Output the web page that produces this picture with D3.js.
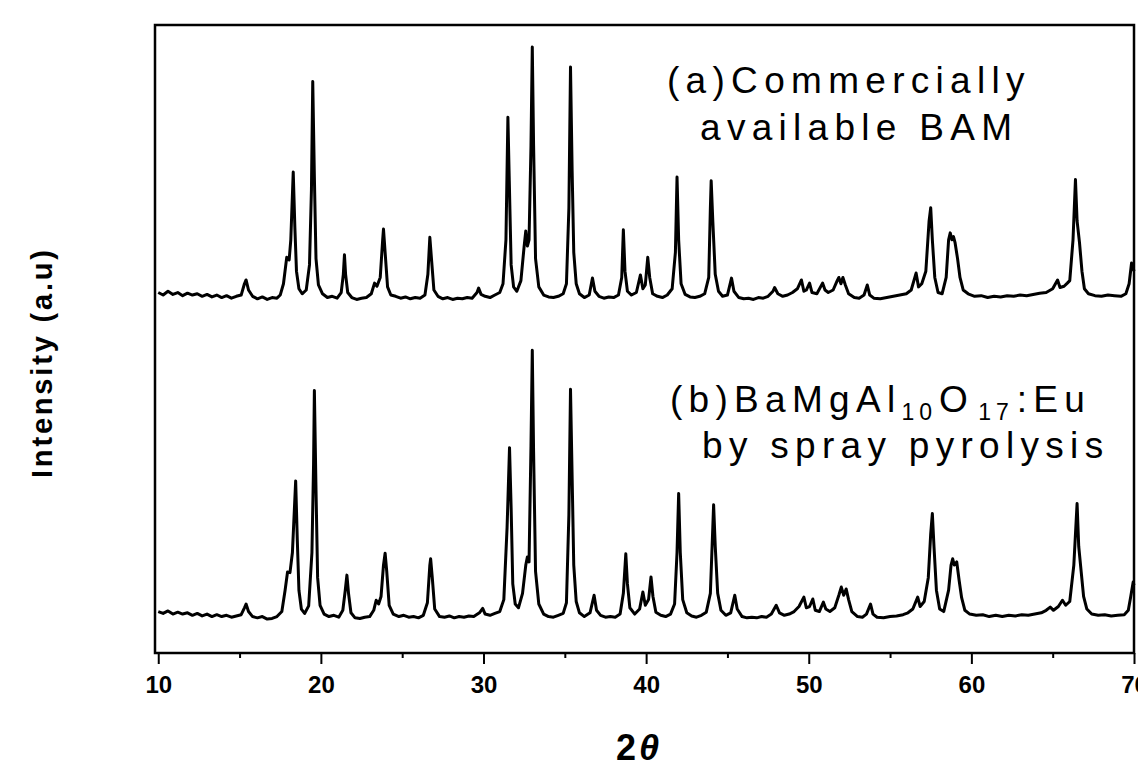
<!DOCTYPE html>
<html>
<head>
<meta charset="utf-8">
<script src="https://cdn.jsdelivr.net/npm/d3@7"></script>
<style>
  body { margin: 0; background: #fff; }
  svg { display: block; }
  .frame { fill: none; stroke: #000; stroke-width: 2.5; }
  .trace { fill: none; stroke: #000; stroke-width: 3; stroke-linejoin: round; }
  .label { font-family: 'Liberation Sans', Arial, sans-serif; font-size: 37px; letter-spacing: 6.3px; fill: #000; }
  .tick text { font-family: 'Liberation Sans Narrow', 'Liberation Sans', Arial, sans-serif; font-weight: bold; font-size: 24px; }
</style>
</head>
<body>
<svg width="1138" height="767"></svg>
<script>
'use strict';

// x ticks (2 theta)
var xTicks = [10, 20, 30, 40, 50, 60, 70];
var xMinorTicks = [15, 25, 35, 45, 55, 65];

// series names
var seriesNames = ['(a) Commercially available BAM', '(b) BaMgAl10O17:Eu by spray pyrolysis'];

// (a) commercial BAM, [2theta, intensity a.u.]
var commercialBAM = [
  [10.0,66],[10.3,62],[10.6,68],[10.9,63],[11.2,66],[11.5,61],[11.8,65],[12.1,62],[12.4,64],[12.7,60],[13.0,63],[13.3,59],[13.6,62],[13.9,58],[14.2,61],[14.5,57],[14.8,60],[15.1,62],[15.3,80],[15.4,86],[15.55,70],[15.8,60],[16.1,56],[16.4,59],[16.7,55],[17.0,58],[17.3,57],[17.5,62],[17.7,80],[17.9,122],[18.05,118],[18.15,150],[18.3,258],[18.4,170],[18.5,100],[18.65,72],[18.85,64],[19.1,70],[19.3,110],[19.42,230],[19.5,402],[19.6,250],[19.7,120],[19.85,78],[20.1,64],[20.4,58],[20.7,60],[21.0,57],[21.25,66],[21.38,95],[21.45,126],[21.52,95],[21.65,66],[21.9,58],[22.2,55],[22.5,57],[22.8,58],[23.1,64],[23.3,81],[23.45,76],[23.65,90],[23.8,150],[23.85,167],[23.95,130],[24.1,75],[24.3,62],[24.6,60],[24.9,57],[25.2,59],[25.5,56],[25.8,58],[26.1,57],[26.4,62],[26.58,95],[26.7,154],[26.8,120],[26.95,70],[27.2,60],[27.5,56],[27.8,58],[28.1,55],[28.4,57],[28.7,56],[29.0,58],[29.3,57],[29.6,66],[29.7,73],[29.85,63],[30.1,60],[30.4,58],[30.7,62],[31.0,66],[31.2,80],[31.38,150],[31.5,345],[31.58,250],[31.7,110],[31.85,75],[32.05,68],[32.3,85],[32.5,140],[32.6,164],[32.7,140],[32.8,150],[32.92,300],[33.0,457],[33.08,300],[33.2,120],[33.4,75],[33.7,62],[34.0,59],[34.3,58],[34.6,60],[34.9,64],[35.1,80],[35.25,200],[35.35,425],[35.45,260],[35.55,130],[35.7,80],[35.9,64],[36.2,58],[36.5,62],[36.7,89],[36.85,68],[37.1,60],[37.4,57],[37.7,59],[38.0,58],[38.3,62],[38.5,90],[38.6,166],[38.7,100],[38.85,68],[39.1,62],[39.4,66],[39.65,94],[39.8,72],[39.95,78],[40.1,122],[40.22,90],[40.4,64],[40.7,60],[41.0,58],[41.3,62],[41.6,72],[41.8,130],[41.9,250],[42.0,150],[42.15,80],[42.4,63],[42.7,59],[43.0,58],[43.3,60],[43.6,64],[43.85,90],[43.95,200],[44.0,244],[44.1,180],[44.25,95],[44.45,68],[44.7,60],[45.0,62],[45.25,89],[45.4,68],[45.7,58],[46.0,56],[46.3,57],[46.6,55],[46.9,58],[47.2,57],[47.5,60],[47.8,68],[47.9,74],[48.1,64],[48.4,60],[48.7,62],[49.0,66],[49.3,72],[49.55,86],[49.7,68],[49.85,70],[50.05,81],[50.2,66],[50.5,64],[50.85,81],[51.0,70],[51.2,66],[51.5,70],[51.75,85],[51.85,90],[51.98,80],[52.1,90],[52.25,78],[52.45,64],[52.8,58],[53.1,57],[53.4,62],[53.6,78],[53.75,62],[54.0,57],[54.4,56],[54.8,58],[55.2,60],[55.6,62],[56.0,64],[56.3,70],[56.6,97],[56.75,75],[56.95,80],[57.2,100],[57.4,180],[57.5,201],[57.6,150],[57.75,90],[57.95,66],[58.2,64],[58.45,90],[58.6,150],[58.7,161],[58.8,150],[58.9,155],[59.0,145],[59.15,120],[59.3,90],[59.5,70],[59.8,64],[60.2,60],[60.6,61],[61.0,58],[61.4,60],[61.8,59],[62.2,61],[62.6,60],[63.0,62],[63.4,61],[63.8,63],[64.2,65],[64.6,66],[65.0,72],[65.3,86],[65.45,74],[65.7,76],[65.9,81],[66.05,85],[66.25,150],[66.4,246],[66.5,180],[66.65,145],[66.8,100],[66.95,72],[67.2,64],[67.6,61],[68.0,60],[68.4,62],[68.8,61],[69.2,60],[69.5,64],[69.7,80],[69.85,113],[69.95,105],[70.0,100]
];

// (b) spray pyrolysis BAM:Eu
var sprayBAM = [
  [10.0,66],[10.3,63],[10.6,67],[10.9,62],[11.2,65],[11.5,62],[11.8,64],[12.1,60],[12.4,63],[12.7,59],[13.0,62],[13.3,58],[13.6,61],[13.9,58],[14.2,60],[14.5,57],[14.8,59],[15.1,61],[15.3,72],[15.4,78],[15.55,66],[15.8,58],[16.1,56],[16.4,58],[16.7,54],[17.0,55],[17.3,58],[17.6,66],[17.8,100],[17.95,129],[18.1,128],[18.25,160],[18.45,274],[18.55,180],[18.65,100],[18.8,70],[19.0,63],[19.25,75],[19.45,160],[19.55,300],[19.6,418],[19.7,260],[19.8,120],[19.95,76],[20.2,62],[20.5,58],[20.8,60],[21.1,57],[21.35,68],[21.5,100],[21.6,124],[21.7,95],[21.85,64],[22.1,56],[22.4,55],[22.7,57],[23.0,58],[23.25,68],[23.4,84],[23.55,78],[23.7,90],[23.85,140],[23.95,159],[24.05,130],[24.2,76],[24.45,62],[24.8,58],[25.1,60],[25.4,57],[25.7,58],[26.0,56],[26.3,60],[26.55,80],[26.7,140],[26.75,150],[26.85,120],[27.0,70],[27.3,58],[27.6,57],[27.9,59],[28.2,56],[28.5,58],[28.8,57],[29.1,59],[29.4,58],[29.75,64],[29.95,71],[30.1,62],[30.4,60],[30.7,63],[31.0,66],[31.25,85],[31.45,200],[31.6,327],[31.7,230],[31.8,110],[31.95,78],[32.15,72],[32.4,95],[32.6,140],[32.7,153],[32.8,145],[32.92,330],[33.0,482],[33.08,320],[33.2,130],[33.4,78],[33.7,62],[34.0,58],[34.3,57],[34.6,60],[34.9,63],[35.1,80],[35.25,220],[35.35,420],[35.45,280],[35.55,140],[35.7,82],[35.9,64],[36.2,58],[36.55,64],[36.8,92],[36.95,68],[37.2,60],[37.5,57],[37.8,58],[38.1,57],[38.4,62],[38.6,95],[38.75,158],[38.85,110],[39.0,72],[39.3,62],[39.6,70],[39.8,97],[39.95,76],[40.15,85],[40.3,121],[40.42,90],[40.6,65],[40.9,60],[41.2,58],[41.5,62],[41.75,78],[41.9,160],[42.0,254],[42.1,160],[42.25,85],[42.5,64],[42.8,59],[43.1,57],[43.4,60],[43.7,65],[43.95,95],[44.1,200],[44.15,236],[44.25,170],[44.4,95],[44.6,68],[44.9,60],[45.2,64],[45.45,92],[45.6,70],[45.9,58],[46.2,56],[46.5,57],[46.8,56],[47.1,58],[47.4,57],[47.7,62],[48.0,76],[48.2,64],[48.5,60],[48.8,62],[49.1,66],[49.4,74],[49.7,89],[49.85,72],[50.05,74],[50.25,86],[50.4,68],[50.65,66],[50.9,81],[51.05,70],[51.3,66],[51.6,72],[51.85,92],[52.0,105],[52.15,92],[52.3,102],[52.45,85],[52.65,66],[53.0,58],[53.3,57],[53.55,62],[53.8,78],[53.95,62],[54.2,57],[54.6,56],[55.0,58],[55.4,59],[55.8,61],[56.1,64],[56.4,70],[56.7,89],[56.85,74],[57.1,82],[57.35,120],[57.5,190],[57.6,222],[57.7,170],[57.85,100],[58.05,70],[58.3,66],[58.6,100],[58.75,140],[58.85,150],[58.95,140],[59.1,145],[59.25,115],[59.4,88],[59.6,68],[59.9,62],[60.3,60],[60.7,61],[61.1,58],[61.5,60],[61.9,58],[62.3,60],[62.7,59],[63.1,61],[63.5,60],[63.9,62],[64.3,64],[64.6,68],[64.85,73],[65.05,68],[65.35,74],[65.6,84],[65.8,76],[66.05,82],[66.3,140],[66.5,238],[66.6,170],[66.75,130],[66.9,90],[67.1,70],[67.4,62],[67.8,60],[68.2,61],[68.6,59],[69.0,60],[69.4,61],[69.65,68],[69.8,90],[69.95,113],[70.0,108]
];

var svg = d3.select('svg');

// plot box
var plotLeft = 155, plotRight = 1134, plotTop = 25, plotBottom = 653;
var stackOffset = 508; //vertical shift of trace (a)

var x = d3.scaleLinear().domain([9.8, 70]).range([plotLeft, plotRight]);
var y = d3.scaleLinear().domain([0, 1000]).range([plotBottom, plotTop]);

//Frame
svg.append('rect').attr('class', 'frame')
  .attr('x', plotLeft).attr('y', plotTop)
  .attr('width', plotRight - plotLeft).attr('height', plotBottom - plotTop);

//Bottom axis with major + minor ticks
var xAxis = d3.axisBottom(x).tickValues(xTicks).tickSize(11).tickPadding(12).tickFormat(d3.format('d'));
var gx = svg.append('g').attr('transform', 'translate(0,' + plotBottom + ')').call(xAxis);
gx.select('.domain').remove();
gx.selectAll('.tick line').attr('stroke-width', 2);
gx.selectAll('.tick text').attr('fill', '#000');

var gMinor = svg.append('g').attr('transform', 'translate(0,' + plotBottom + ')')
  .call(d3.axisBottom(x).tickValues(xMinorTicks).tickSize(5).tickFormat(''));
gMinor.select('.domain').remove();
gMinor.selectAll('.tick line').attr('stroke-width', 2);

//Traces
var line = d3.line()
  .x(function (d) { return x(d[0]); })
  .y(function (d) { return y(d[1]); });

var lineShifted = d3.line()
  .x(function (d) { return x(d[0]); })
  .y(function (d) { return y(d[1] + stackOffset); });

svg.append('path').datum(commercialBAM).attr('class', 'trace').attr('d', lineShifted);
svg.append('path').datum(sprayBAM).attr('class', 'trace').attr('d', line);

//Labels for the traces
var la = svg.append('text').attr('class', 'label');
la.append('tspan').attr('x', 667).attr('y', 93).text('(a)Commercially');
la.append('tspan').attr('x', 700).attr('y', 140).text('available BAM');

var lb = svg.append('text').attr('class', 'label').attr('x', 670).attr('y', 412);
lb.append('tspan').text('(b)BaMgAl');
lb.append('tspan').attr('dy', 8).attr('font-size', 23).attr('letter-spacing', 5).text('10');
lb.append('tspan').attr('dy', -8).attr('dx', 2).text('O');
lb.append('tspan').attr('dy', 8).attr('dx', 4).attr('font-size', 23).attr('letter-spacing', 5).text('17');
lb.append('tspan').attr('dy', -8).attr('dx', 3).text(':Eu');
svg.append('text').attr('class', 'label').attr('x', 702).attr('y', 458).text('by spray pyrolysis');

//Axis titles
svg.append('text')
  .attr('transform', 'translate(52,364) rotate(-90)')
  .attr('text-anchor', 'middle')
  .attr('font-family', "'Liberation Sans', Arial, sans-serif")
  .attr('font-weight', 'bold')
  .attr('font-size', 29)
  .attr('textLength', 228)
  .attr('lengthAdjust', 'spacing')
  .text('Intensity (a.u)');

var xt = svg.append('text')
  .attr('x', 616).attr('y', 760)
  .attr('font-family', "'Liberation Sans', Arial, sans-serif")
  .attr('font-weight', 'bold')
  .attr('font-size', 36);
xt.append('tspan').text('2');
xt.append('tspan').attr('dx', 3).attr('font-style', 'italic').text('θ');
</script>
</body>
</html>
